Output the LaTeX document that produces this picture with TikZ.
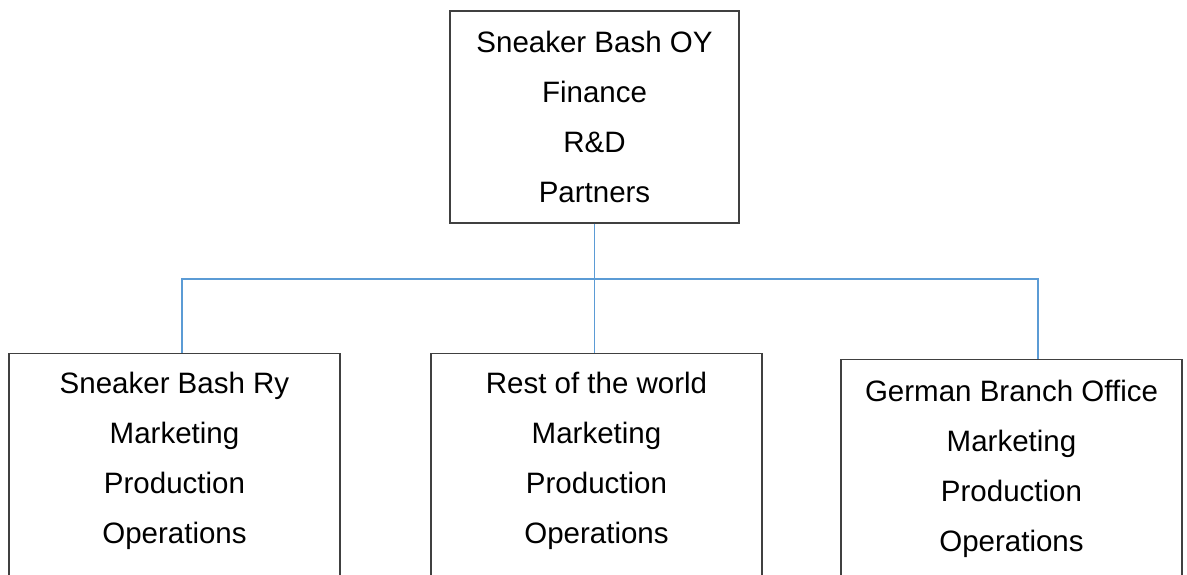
\documentclass[tikz,border=0pt]{standalone}
\usepackage{fontspec}
\setmainfont{Liberation Sans}
\usetikzlibrary{positioning}

\definecolor{linkblue}{RGB}{91,155,213}
\definecolor{boxgray}{RGB}{64,64,64}

\tikzset{
  unit/.style={draw=boxgray,line width=1.4pt,rectangle,align=center,inner xsep=0pt,inner ysep=18pt,
    font=\fontsize{29.5}{50}\selectfont},
  link/.style={draw=linkblue,line width=1.1pt}
}
% keeps the bottom boxes open below the page edge
\newcommand{\openend}{\rule[-60pt]{0pt}{60pt}}

\begin{document}
\begin{tikzpicture}[x=1pt,y=-1pt]
\useasboundingbox (0,0) rectangle (1187,575);
\clip (0,0) rectangle (1187,575);

\node[unit,minimum width=289pt,minimum height=212pt,inner ysep=0pt] (top) at (594.5,117)
	{Sneaker Bash OY\\Finance\\R\&D\\Partners};

\node[unit,anchor=north,minimum width=331pt] (ry) at (174.5,353)
	{Sneaker Bash Ry\\Marketing\\Production\\Operations\openend};
\node[unit,anchor=north,minimum width=331pt] (world) at (596.5,353)
	{Rest of the world\\Marketing\\Production\\Operations\openend};
\node[unit,anchor=north,minimum width=341pt,inner ysep=20pt] (german) at (1011.5,359)
	{German Branch Office\\Marketing\\Production\\Operations\openend};

\coordinate (ryjoin) at (182,279);
\coordinate (gbjoin) at (1038,279);

\draw[link] (top.south) -- (top.south |- world.north);
\draw[link] (ryjoin |- ry.north) -- (ryjoin) -- (gbjoin) -- (gbjoin |- german.north);

\end{tikzpicture}
\end{document}
